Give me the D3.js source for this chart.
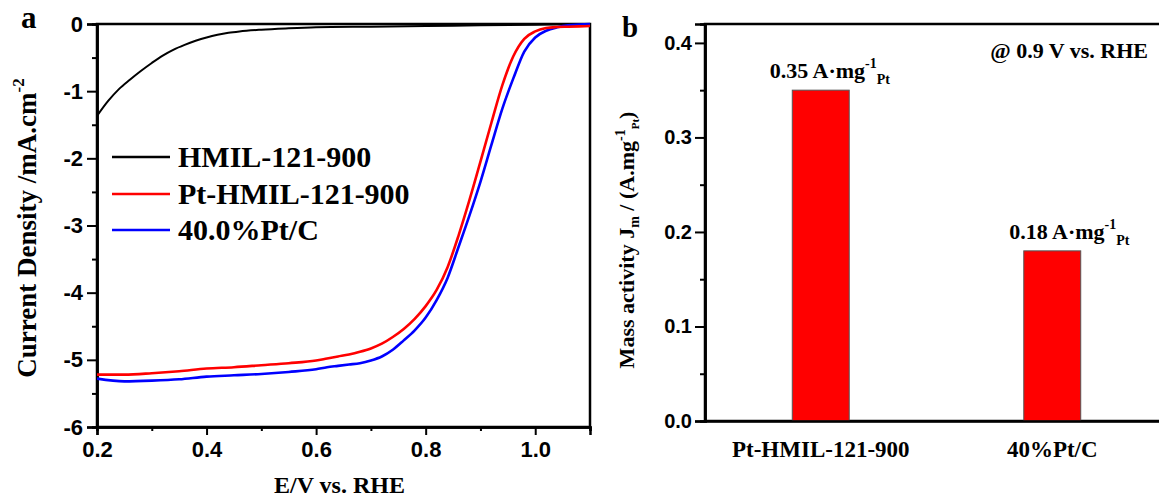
<!DOCTYPE html>
<html><head><meta charset="utf-8">
<script src="https://cdn.jsdelivr.net/npm/d3@7"></script>
<style>body{margin:0;background:#fff}svg{display:block}</style>
</head><body>
<svg id="chart" width="1159" height="499"></svg>
<script>
// ---------- Panel a data ----------
const potentialBlack = [0.20,0.22,0.24,0.26,0.28,0.30,0.32,0.34,0.36,0.38,0.40,0.42,0.44,0.46,0.50,0.55,0.60,0.70,0.80,0.90,1.00,1.10];
const currentBlack   = [-1.37,-1.15,-0.97,-0.83,-0.70,-0.58,-0.47,-0.38,-0.31,-0.25,-0.20,-0.16,-0.13,-0.11,-0.085,-0.065,-0.05,-0.04,-0.03,-0.02,-0.01,0];

const potentialPt = [0.20,0.25,0.30,0.35,0.40,0.45,0.50,0.55,0.60,0.62,0.64,0.66,0.68,0.70,0.72,0.74,0.76,0.78,0.80,0.82,0.84,0.86,0.88,0.90,0.92,0.94,0.96,0.98,1.00,1.02,1.04,1.06,1.08,1.10];
const currentRed  = [-5.22,-5.22,-5.20,-5.17,-5.13,-5.11,-5.08,-5.05,-5.01,-4.98,-4.95,-4.92,-4.88,-4.83,-4.76,-4.66,-4.54,-4.39,-4.20,-3.96,-3.62,-3.15,-2.62,-2.05,-1.47,-0.91,-0.48,-0.22,-0.11,-0.06,-0.045,-0.04,-0.035,-0.03];
const currentBlue = [-5.28,-5.32,-5.31,-5.29,-5.25,-5.23,-5.21,-5.18,-5.14,-5.11,-5.09,-5.07,-5.05,-5.01,-4.95,-4.85,-4.71,-4.56,-4.37,-4.11,-3.78,-3.32,-2.85,-2.35,-1.80,-1.26,-0.81,-0.41,-0.20,-0.10,-0.05,-0.02,-0.01,0.00];

const seriesNames  = ["HMIL-121-900","Pt-HMIL-121-900","40.0%Pt/C"];
const seriesColors = ["#000000","#ff0000","#0000ff"];

const xTicksA = [0.2,0.4,0.6,0.8,1.0];
const xMinorA = [0.3,0.5,0.7,0.9,1.1];
const yTicksA = [0,-1,-2,-3,-4,-5,-6];
const yMinorA = [-0.5,-1.5,-2.5,-3.5,-4.5,-5.5];

// ---------- Panel b data ----------
const categories   = ["Pt-HMIL-121-900","40%Pt/C"];
const massActivity = [0.35,0.18];
const barLabels    = ["0.35","0.18"];
const yTicksB = [0.0,0.1,0.2,0.3,0.4];
const yMinorB = [0.05,0.15,0.25,0.35];

const svg = d3.select("#chart");
const sans = "Arial, 'Liberation Sans', sans-serif";
const serif = "'Times New Roman', 'Liberation Serif', serif";

// ================= Panel a =================
const ax = {l:97, r:590, t:24, b:427};
const x = d3.scaleLinear([0.2,1.1],[ax.l,ax.r]);
const y = d3.scaleLinear([-6,0],[ax.b,ax.t]);

svg.append("defs").append("clipPath").attr("id","clipA")
  .append("rect").attr("x",ax.l).attr("y",ax.t-3).attr("width",ax.r-ax.l).attr("height",ax.b-ax.t+3);

function styleAxis(g, size){
  g.attr("font-family",sans).attr("font-size",size).style("font-weight","bold");
  g.select(".domain").attr("stroke","#000").attr("stroke-width",2.5);
  g.selectAll(".tick line").attr("stroke","#000").attr("stroke-width",2);
  g.selectAll(".tick text").attr("font-family",sans).style("font-weight","bold").attr("font-size",size).attr("fill","#000");
}

// frame
svg.append("rect").attr("x",ax.l).attr("y",ax.t).attr("width",ax.r-ax.l).attr("height",ax.b-ax.t)
  .attr("fill","none").attr("stroke","#000").attr("stroke-width",2.5);

const gxA = svg.append("g").attr("transform",`translate(0,${ax.b})`)
  .call(d3.axisBottom(x).tickValues(xTicksA).tickFormat(d3.format(".1f")).tickSizeOuter(0).tickSize(8).tickPadding(6));
styleAxis(gxA,22);
const gxAm = svg.append("g").attr("transform",`translate(0,${ax.b})`)
  .call(d3.axisBottom(x).tickValues(xMinorA).tickFormat("").tickSizeOuter(0).tickSize(4));
styleAxis(gxAm,22);

const gyA = svg.append("g").attr("transform",`translate(${ax.l},0)`)
  .call(d3.axisLeft(y).tickValues(yTicksA).tickFormat(d3.format("d")).tickSizeOuter(0).tickSize(10).tickPadding(4));
styleAxis(gyA,22);
gyA.selectAll(".tick text").text(d => d===0 ? "0" : "-" + Math.abs(d));
const gyAm = svg.append("g").attr("transform",`translate(${ax.l},0)`)
  .call(d3.axisLeft(y).tickValues(yMinorA).tickFormat("").tickSizeOuter(0).tickSize(5));
styleAxis(gyAm,22);

// curves
const lineGen = d3.line().x(d=>x(d[0])).y(d=>y(d[1])).curve(d3.curveMonotoneX);
const seriesData = [
  d3.zip(potentialBlack,currentBlack),
  d3.zip(potentialPt,currentRed),
  d3.zip(potentialPt,currentBlue)
];
const widths = [2,2.6,2.6];
const order = [0,2,1];
order.forEach(i=>{
  svg.append("path").attr("d",lineGen(seriesData[i])).attr("fill","none")
    .attr("stroke",seriesColors[i]).attr("stroke-width",widths[i]).attr("clip-path","url(#clipA)");
});

// legend
const legY = [157,194,230];
seriesNames.forEach((n,i)=>{
  svg.append("line").attr("x1",112).attr("x2",170).attr("y1",legY[i]).attr("y2",legY[i])
    .attr("stroke",seriesColors[i]).attr("stroke-width",2.5);
  svg.append("text").attr("x",178).attr("y",legY[i]+10).text(n)
    .attr("font-family",serif).attr("font-weight","bold").attr("font-size",30).attr("fill","#000");
});

// axis titles a
svg.append("text").attr("x",(ax.l+ax.r)/2-4).attr("y",493).attr("text-anchor","middle")
  .attr("font-family",serif).attr("font-weight","bold").attr("font-size",24).text("E/V vs. RHE");
const ytA = svg.append("text").attr("transform","translate(36,228) rotate(-90)").attr("text-anchor","middle")
  .attr("font-family",serif).attr("font-weight","bold").attr("font-size",27);
ytA.append("tspan").text("Current Density /mA.cm");
ytA.append("tspan").attr("dy",-12).attr("font-size",17).text("-2");

svg.append("text").attr("x",21).attr("y",28).attr("font-family",serif).attr("font-weight","bold").attr("font-size",31).text("a");

// ================= Panel b =================
const bx = {l:705, r:1168, t:24, b:421};
const yb = d3.scaleLinear([0,0.42],[bx.b,bx.t]);
const xb = d3.scaleBand(categories,[bx.l,bx.r]).paddingInner(0.754).paddingOuter(0.377);

svg.append("rect").attr("x",bx.l).attr("y",bx.t).attr("width",bx.r-bx.l).attr("height",bx.b-bx.t)
  .attr("fill","none").attr("stroke","#000").attr("stroke-width",2.5);

svg.selectAll("rect.bar").data(categories).enter().append("rect").attr("class","bar")
  .attr("x",d=>xb(d)).attr("width",xb.bandwidth())
  .attr("y",(d,i)=>yb(massActivity[i])).attr("height",(d,i)=>yb(0)-yb(massActivity[i]))
  .attr("fill","#ff0000").attr("stroke","#555").attr("stroke-width",1);

const gyB = svg.append("g").attr("transform",`translate(${bx.l},0)`)
  .call(d3.axisLeft(yb).tickValues(yTicksB).tickFormat(d3.format(".1f")).tickSizeOuter(0).tickSize(10).tickPadding(3));
styleAxis(gyB,20);
const gyBm = svg.append("g").attr("transform",`translate(${bx.l},0)`)
  .call(d3.axisLeft(yb).tickValues(yMinorB).tickFormat("").tickSizeOuter(0).tickSize(5));
styleAxis(gyBm,20);

const gxB = svg.append("g").attr("transform",`translate(0,${bx.b})`)
  .call(d3.axisBottom(xb).tickSize(0).tickSizeOuter(0).tickPadding(20));
styleAxis(gxB,23);
gxB.selectAll(".tick text").attr("font-family",serif).attr("font-size",23).attr("dy",0).attr("y",36);

// bar value labels
const labelDx = [-51,-43];
categories.forEach((c,i)=>{
  const t = svg.append("text").attr("x",xb(c)+xb.bandwidth()/2+labelDx[i]).attr("y",yb(massActivity[i])-12)
    .attr("font-family",serif).attr("font-weight","bold").attr("font-size",22);
  t.append("tspan").text(barLabels[i]+" A\u00b7mg");
  t.append("tspan").attr("dy",-10).attr("font-size",14).text("-1");
  t.append("tspan").attr("dy",16).attr("font-size",14).text("Pt");
});

svg.append("text").attr("x",1148).attr("y",58).attr("text-anchor","end")
  .attr("font-family",serif).attr("font-weight","bold").attr("font-size",22).text("@ 0.9 V vs. RHE");

const ytB = svg.append("text").attr("transform","translate(634,240) rotate(-90)").attr("text-anchor","middle")
  .attr("font-family",serif).attr("font-weight","bold").attr("font-size",22);
ytB.append("tspan").text("Mass activity J");
ytB.append("tspan").attr("dy",5).attr("font-size",14).text("m");
ytB.append("tspan").attr("dy",-5).text(" / (A.mg");
ytB.append("tspan").attr("dy",-9).attr("font-size",14).text("-1");
ytB.append("tspan").attr("dy",14).attr("font-size",11).text("Pt");
ytB.append("tspan").attr("dy",-5).text(")");

svg.append("text").attr("x",622).attr("y",37).attr("font-family",serif).attr("font-weight","bold").attr("font-size",29).text("b");
</script>
</body></html>
